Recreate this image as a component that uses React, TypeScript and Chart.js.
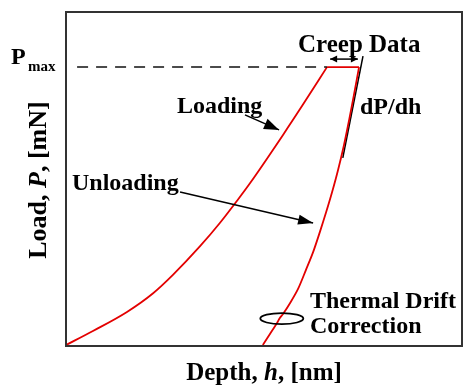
import React, { useEffect, useRef } from "react";
import { Chart, registerables } from "chart.js";

Chart.register(...registerables);

// Load–depth curve (relative units: depth 0–100, load 0–100)
const loadingDepth = [0, 6.8, 15.4, 22.0, 27.0, 33.8, 38.9, 43.2, 46.5, 54.8, 59.8, 65.9];
const loadingLoad = [0.3, 4.5, 10.2, 15.8, 21.3, 29.8, 36.9, 43.5, 48.8, 63.2, 72.2, 83.5];
const creepDepth = [65.9, 74.0];
const creepLoad = [83.5, 83.5];
const unloadingDepth = [74.0, 72.7, 71.5, 70.2, 68.7, 67.2, 65.7, 64.1, 62.4, 60.6, 58.6, 56.6, 54.8, 54.0, 53.3, 51.5, 49.7];
const unloadingLoad = [83.5, 75.1, 67.7, 60.2, 52.7, 46.1, 40.1, 34.1, 28.1, 22.8, 17.1, 12.9, 9.6, 8.4, 6.9, 3.6, 0.3];
const pmaxDepth = [2.8, 65.9];
const pmaxLoad = [83.5, 83.5];
const slopeDepth = [75.0, 69.9];
const slopeLoad = [86.8, 56.3];

const pts = (xs: number[], ys: number[]) => xs.map((x, i) => ({ x, y: ys[i] }));

const SERIF = '"Liberation Serif", "Times New Roman", serif';
const RED = "#e30000";

function arrowHead(ctx: CanvasRenderingContext2D, x1: number, y1: number, x2: number, y2: number, len: number, half: number) {
  const a = Math.atan2(y2 - y1, x2 - x1);
  ctx.beginPath();
  ctx.moveTo(x2, y2);
  ctx.lineTo(x2 - len * Math.cos(a) + half * Math.sin(a), y2 - len * Math.sin(a) - half * Math.cos(a));
  ctx.lineTo(x2 - len * Math.cos(a) - half * Math.sin(a), y2 - len * Math.sin(a) + half * Math.cos(a));
  ctx.closePath();
  ctx.fill();
}

function mixedText(ctx: CanvasRenderingContext2D, parts: [string, string][], x: number, y: number, center: boolean) {
  let total = 0;
  for (const [t, f] of parts) { ctx.font = f; total += ctx.measureText(t).width; }
  let cx = center ? x - total / 2 : x;
  for (const [t, f] of parts) { ctx.font = f; ctx.fillText(t, cx, y); cx += ctx.measureText(t).width; }
}

const annotPlugin = {
  id: "annot",
  afterDatasetsDraw(chart: any) {
    const { ctx, chartArea, scales } = chart;
    const X = (v: number) => scales.x.getPixelForValue(v);
    const Y = (v: number) => scales.y.getPixelForValue(v);
    ctx.save();
    // frame
    ctx.strokeStyle = "#333";
    ctx.lineWidth = 2;
    ctx.strokeRect(chartArea.left, chartArea.top, chartArea.right - chartArea.left, chartArea.bottom - chartArea.top);

    ctx.strokeStyle = "#000";
    ctx.fillStyle = "#000";
    ctx.lineWidth = 1.5;
    // Loading arrow
    let ax1 = X(45.2), ay1 = Y(69.2), ax2 = X(53.8), ay2 = Y(64.7);
    ctx.beginPath(); ctx.moveTo(ax1, ay1); ctx.lineTo(ax2, ay2); ctx.stroke();
    arrowHead(ctx, ax1, ay1, ax2, ay2, 15, 5.5);
    // Unloading arrow
    ax1 = X(28.8); ay1 = Y(46.1); ax2 = X(62.4); ay2 = Y(36.8);
    ctx.beginPath(); ctx.moveTo(ax1, ay1); ctx.lineTo(ax2, ay2); ctx.stroke();
    arrowHead(ctx, ax1, ay1, ax2, ay2, 15, 5);
    // Creep double arrow
    ax1 = X(66.7); ay1 = Y(85.9); ax2 = X(73.7); ay2 = Y(85.9);
    ctx.beginPath(); ctx.moveTo(ax1, ay1); ctx.lineTo(ax2, ay2); ctx.stroke();
    arrowHead(ctx, ax1, ay1, ax2, ay2, 7, 3.5);
    arrowHead(ctx, ax2, ay2, ax1, ay1, 7, 3.5);
    // Thermal drift ellipse
    ctx.lineWidth = 1.8;
    ctx.beginPath();
    ctx.ellipse(X(54.5), Y(8.2), 21.5, 5.5, 0, 0, Math.PI * 2);
    ctx.stroke();

    // Texts
    ctx.textBaseline = "alphabetic";
    ctx.textAlign = "left";
    ctx.font = `bold 25px ${SERIF}`;
    ctx.fillText("Creep Data", 298, 52);
    ctx.font = `bold 24px ${SERIF}`;
    ctx.fillText("dP/dh", 360, 114);
    ctx.fillText("Loading", 177, 113);
    ctx.fillText("Unloading", 72, 190);
    ctx.fillText("Thermal Drift", 310, 308);
    ctx.fillText("Correction", 310, 333);
    // Pmax
    ctx.font = `bold 24px ${SERIF}`;
    ctx.fillText("P", 11, 64);
    ctx.font = `bold 15px ${SERIF}`;
    ctx.fillText("max", 28, 71);
    // x title
    const BX = `bold 25px ${SERIF}`;
    const BIX = `bold italic 25px ${SERIF}`;
    mixedText(ctx, [["Depth, ", BX], ["h", BIX], [", [nm]", BX]], 264, 380, true);
    // y title
    const BY = `bold 26px ${SERIF}`;
    const BIY = `bold italic 26px ${SERIF}`;
    ctx.save();
    ctx.translate(46, 180);
    ctx.rotate(-Math.PI / 2);
    mixedText(ctx, [["Load, ", BY], ["P", BIY], [", [mN]", BY]], 0, 0, true);
    ctx.restore();
    ctx.restore();
  },
};

export default function App() {
  const ref = useRef<HTMLCanvasElement | null>(null);
  useEffect(() => {
    if (!ref.current) return;
    const chart = new Chart(ref.current, {
      type: "scatter",
      data: {
        datasets: [
          { data: pts(pmaxDepth, pmaxLoad), showLine: true, borderColor: "#111", borderWidth: 1.5, borderDash: [11, 8], pointRadius: 0 },
          { data: pts(loadingDepth, loadingLoad), showLine: true, borderColor: RED, borderWidth: 1.8, pointRadius: 0, cubicInterpolationMode: "monotone" },
          { data: pts(creepDepth, creepLoad), showLine: true, borderColor: RED, borderWidth: 1.8, pointRadius: 0 },
          { data: pts(unloadingDepth, unloadingLoad), showLine: true, borderColor: RED, borderWidth: 1.8, pointRadius: 0, tension: 0.3 },
          { data: pts(slopeDepth, slopeLoad), showLine: true, borderColor: "#000", borderWidth: 1.5, pointRadius: 0 },
        ],
      },
      options: {
        animation: false,
        responsive: false,
        maintainAspectRatio: false,
        layout: { padding: { left: 66, top: 12, right: 1, bottom: 40 } },
        plugins: { legend: { display: false }, tooltip: { enabled: false } },
        scales: {
          x: { type: "linear", min: 0, max: 100, display: false },
          y: { type: "linear", min: 0, max: 100, display: false },
        },
      },
      plugins: [annotPlugin],
    });
    return () => chart.destroy();
  }, []);
  return (
    <div style={{ position: "absolute", left: 0, top: 0, width: 463, height: 386, background: "#fff" }}>
      <canvas ref={ref} width={463} height={386} />
    </div>
  );
}
